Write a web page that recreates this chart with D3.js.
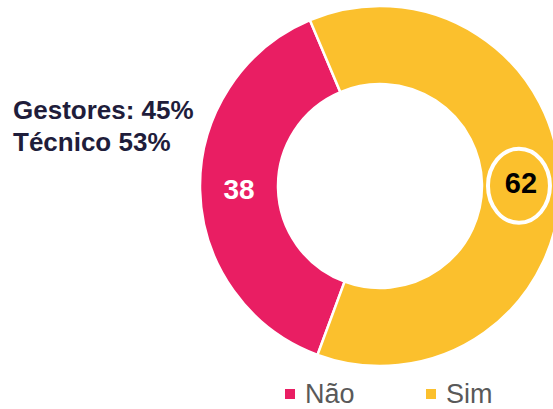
<!DOCTYPE html>
<html>
<head>
<meta charset="utf-8">
<script src="https://cdn.jsdelivr.net/npm/d3@7"></script>
<style>
  body { margin: 0; background: #fff; }
</style>
</head>
<body>
<div id="chart"></div>
<script>
// data
var categories = ["Não", "Sim"];
var values = [38, 62];
var colors = ["#E91E63", "#FBC02D"];
var noteLines = ["Gestores: 45%", "Técnico 53%"];
var highlighted = "Sim";

var width = 553, height = 409;
var cx = 380, cy = 186,
    outerR = 180, innerR = 102;

var svg = d3.select("#chart")
  .append("svg")
  .attr("width", width)
  .attr("height", height);

var data = categories.map(function(c, i) { return {cat: c, value: values[i]}; });

// Não starts lower-left, goes clockwise up to the top
var start = 200.3 * Math.PI / 180;
var pie = d3.pie()
  .sort(null)
  .value(function(d) { return d.value; })
  .startAngle(start)
  .endAngle(start + 2 * Math.PI);

var arc = d3.arc().innerRadius(innerR).outerRadius(outerR);
var color = d3.scaleOrdinal().domain(categories).range(colors);

var g = svg.append("g").attr("transform", "translate(" + cx + "," + cy + ")");

var arcs = pie(data);

g.selectAll("path")
  .data(arcs)
  .enter().append("path")
  .attr("d", arc)
  .attr("fill", function(d) { return color(d.data.cat); })
  .attr("stroke", "#fff")
  .attr("stroke-width", 2.5);

// ring around the highlighted value
arcs.filter(function(d) { return d.data.cat === highlighted; }).forEach(function(d) {
  var c = arc.centroid(d);
  g.append("ellipse")
    .attr("cx", c[0] - 2)
    .attr("cy", c[1] + 3)
    .attr("rx", 31)
    .attr("ry", 37)
    .attr("fill", "none")
    .attr("stroke", "#fff")
    .attr("stroke-width", 4);
});

g.selectAll("text.val")
  .data(arcs)
  .enter().append("text")
  .attr("class", "val")
  .attr("x", function(d) { return arc.centroid(d)[0]; })
  .attr("y", function(d) { return arc.centroid(d)[1]; })
  .attr("dy", "0.36em")
  .attr("text-anchor", "middle")
  .style("font-family", "'Liberation Sans', Arial, sans-serif")
  .style("font-weight", "bold")
  .style("font-size", function(d) { return d.data.cat === highlighted ? "29px" : "28px"; })
  .attr("fill", function(d) { return d.data.cat === highlighted ? "#000" : "#fff"; })
  .text(function(d) { return d.data.value; });

// note on the left
svg.selectAll("text.note")
  .data(noteLines)
  .enter().append("text")
  .attr("class", "note")
  .attr("x", 13)
  .attr("y", function(d, i) { return 119 + i * 31.5; })
  .style("font-family", "'Liberation Sans', Arial, sans-serif")
  .style("font-weight", "bold")
  .style("font-size", "26px")
  .attr("fill", "#1F1D3B")
  .text(function(d) { return d; });

// legend
var legendX = [285, 426];
var legend = svg.selectAll("g.legend")
  .data(categories)
  .enter().append("g")
  .attr("class", "legend")
  .attr("transform", function(d, i) { return "translate(" + legendX[i] + ",389)"; });

legend.append("rect")
  .attr("width", 10)
  .attr("height", 10)
  .attr("fill", function(d) { return color(d); });

legend.append("text")
  .attr("x", 20)
  .attr("y", 14)
  .style("font-family", "'Liberation Sans', Arial, sans-serif")
  .style("font-size", "27px")
  .attr("fill", "#595959")
  .text(function(d) { return d; });
</script>
</body>
</html>
